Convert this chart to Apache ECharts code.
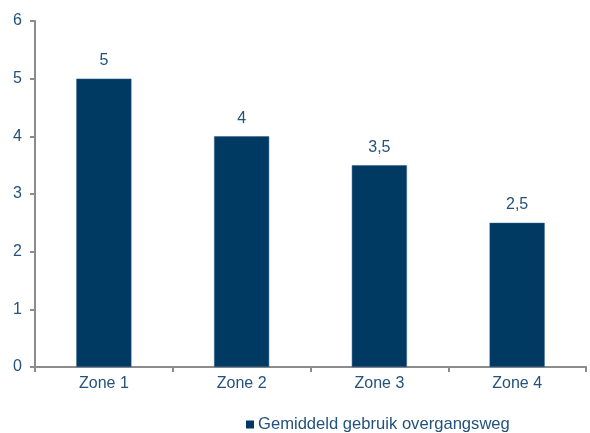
<!DOCTYPE html>
<html><head><meta charset="utf-8">
<script src="https://cdn.jsdelivr.net/npm/echarts@6/dist/echarts.min.js"></script>
<style>html,body{margin:0;padding:0;background:#fff}#c{width:590px;height:433px}</style>
</head><body><div id="c"></div>
<script>
const categories = ['Zone 1', 'Zone 2', 'Zone 3', 'Zone 4'];
const values = [5, 4, 3.5, 2.5];
const seriesName = 'Gemiddeld gebruik overgangsweg';
const yTicks = [0, 1, 2, 3, 4, 5, 6];

const textColor = '#24527C';
const axisColor = '#8C8C8C';
const chart = echarts.init(document.getElementById('c'));
chart.setOption({
  animation: false,
  textStyle: { fontFamily: 'Liberation Sans, Arial, sans-serif' },
  grid: { left: 35, right: 4, top: 21, bottom: 66 },
  legend: {
    data: [seriesName], left: 241, top: 411,
    icon: 'rect', itemWidth: 8, itemHeight: 8, itemGap: 4,
    itemStyle: { borderWidth: 0 },
    textStyle: { color: textColor, fontSize: 16.6, fontFamily: 'Liberation Sans, Arial, sans-serif', padding: [0, 0, 0, -1] }
  },
  xAxis: {
    type: 'category', data: categories,
    axisLine: { lineStyle: { color: axisColor, width: 2 } },
    axisTick: { show: true, length: 5, lineStyle: { color: axisColor, width: 2 } },
    axisLabel: { color: textColor, fontSize: 16, margin: 9 }
  },
  yAxis: {
    type: 'value', min: yTicks[0], max: yTicks[yTicks.length - 1], interval: 1,
    axisLine: { show: true, lineStyle: { color: axisColor, width: 2 } },
    axisTick: { show: true, length: 5, lineStyle: { color: axisColor, width: 2 } },
    splitLine: { show: false },
    axisLabel: { color: textColor, fontSize: 16, margin: 13 }
  },
  series: [{
    name: seriesName, type: 'bar', data: values, barWidth: '40%',
    itemStyle: { color: '#003A63', borderColor: '#2F5F86', borderWidth: 0.5 },
    label: {
      show: true, position: 'top', distance: 10, color: textColor, fontSize: 16,
      formatter: p => String(p.value).replace('.', ',')
    }
  }]
});
</script></body></html>
